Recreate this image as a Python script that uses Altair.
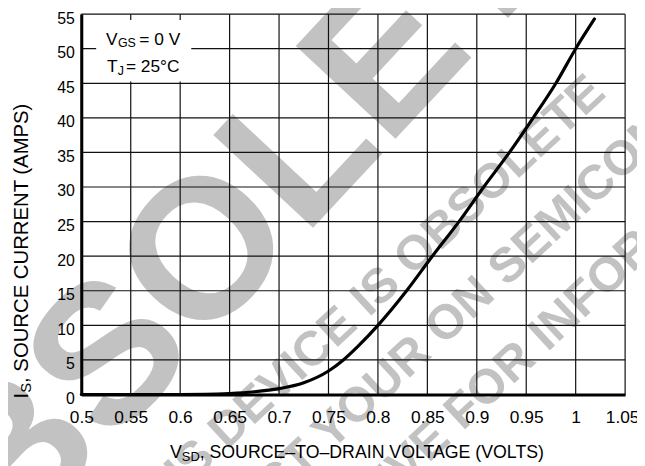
import altair as alt
import pandas as pd

# ---- data ----
vsd = [0.50, 0.55, 0.60, 0.625, 0.65, 0.675, 0.70, 0.725, 0.75, 0.765, 0.78, 0.80,
       0.829, 0.855, 0.882, 0.907, 0.933, 0.957, 0.980, 1.000, 1.019]
i_s = [0.0, 0.0, 0.0, 0.03, 0.15, 0.4, 0.85, 1.7, 3.4, 5.0, 7.0, 10.0,
       15.0, 20.0, 25.0, 30.0, 35.0, 40.0, 45.0, 50.0, 54.3]
x_ticks = [0.5, 0.55, 0.6, 0.65, 0.7, 0.75, 0.8, 0.85, 0.9, 0.95, 1.0, 1.05]
y_ticks = [0, 5, 10, 15, 20, 25, 30, 35, 40, 45, 50, 55]

x_title_main = ", SOURCE\u2013TO\u2013DRAIN VOLTAGE (VOLTS)"
y_title_main = ", SOURCE CURRENT (AMPS)"

W, H = 549, 384
PL, PT, PR, PB = 74, 4, 12, 70
OX, OY = 8 + PL, 8 + PT

REG = "Liberation Sans, Arial, Helvetica, sans-serif"
WM = "#c2c2c2"


def px(x):
    return x - OX


def py(y):
    return y - OY


xs = alt.Scale(domain=[0.5, 1.05], nice=False, zero=False)
ys = alt.Scale(domain=[0, 55], nice=False, zero=False)

x_axis = alt.Axis(values=x_ticks, format="~g", grid=False, ticks=False,
                  domainColor="black", domainWidth=3, labelFont=REG,
                  labelFontSize=17.5, labelColor="black", labelPadding=14,
                  labelOverlap=False, labelBound=False, labelFlush=False,
                  labelOffset={"condition": {"test": "datum.value > 1.04", "value": -3}, "value": 0},
                  title=None, zindex=1)
y_axis = alt.Axis(values=y_ticks, grid=False, ticks=False, domainColor="black",
                  domainWidth=3, labelFont=REG, labelFontSize=16,
                  labelColor="black", labelPadding=7, labelBaseline="middle",
                  labelOffset=4, labelOverlap=False, labelBound=False,
                  labelFlush=False, title=None, zindex=1)

one = pd.DataFrame({"a": [0]})


def text_layer(txt, x, y, size, font=REG, align="left", baseline="alphabetic",
               angle=None, color="black", weight="normal"):
    kw = dict(text=txt, fontSize=size, font=font, align=align,
              baseline=baseline, color=color, fontWeight=weight)
    if angle is not None:
        kw["angle"] = angle
    return alt.Chart(one).mark_text(**kw).encode(x=alt.value(px(x)), y=alt.value(py(y)))


layers = []

# watermark: big letters, each placed at its centre
big_letters = ["B", "S", "O", "L", "E", "T", "E"]
big_cx = [18, 112.5, 210, 304.7, 391.8, 478.8, 565.5]
big_cy = [461.5, 359.5, 254, 152, 58, -35.7, -129]
for ch, cx, cy in zip(big_letters, big_cx, big_cy):
    layers.append(text_layer(ch, cx, cy, 200, align="center", baseline="middle",
                             angle=313, color=WM, weight="bold"))
for txt, x, y, al in [
    ("THIS DEVICE IS OBSOLETE", 603, 83, "right"),
    ("CONTACT YOUR", 427, 346, "right"),
    ("ON SEMICONDUCTOR", 437.5, 336.5, "left"),
    ("REPRESENTATIVE", 446.3, 432.3, "right"),
    ("FOR INFORMATION", 456.8, 422.4, "left"),
]:
    layers.append(text_layer(txt, x, y, 49, align=al, baseline="middle",
                             angle=317, color=WM, weight="bold"))

# grid
xt = pd.DataFrame({"v": x_ticks})
yt = pd.DataFrame({"i": y_ticks})
layers.append(alt.Chart(xt).mark_rule(color="#111111", strokeWidth=1.2).encode(
    x=alt.X("v:Q", scale=xs, axis=x_axis)))
layers.append(alt.Chart(yt).mark_rule(color="#111111", strokeWidth=1.2).encode(
    y=alt.Y("i:Q", scale=ys, axis=y_axis)))

# curve
curve = pd.DataFrame({"v": vsd, "i": i_s})
layers.append(alt.Chart(curve).mark_line(color="black", strokeWidth=3.2,
                                          interpolate="monotone", strokeCap="round").encode(
    x=alt.X("v:Q", scale=xs, axis=x_axis),
    y=alt.Y("i:Q", scale=ys, axis=y_axis)))

# annotation box
layers.append(alt.Chart(one).mark_rect(color="white").encode(
    x=alt.value(px(97)), x2=alt.value(px(193)),
    y=alt.value(py(18)), y2=alt.value(py(80))))
layers += [
    text_layer("V", 107, 43, 17.5),
    text_layer("GS", 119, 45.5, 12.5),
    text_layer("= 0 V", 140.5, 43, 17.5),
    text_layer("T", 108, 70, 17.5),
    text_layer("J", 118.7, 73.3, 12.5),
    text_layer("= 25\u00b0C", 127, 70, 17.5),
]

# axis titles
layers += [
    text_layer("V", 171.5, 460, 18),
    text_layer("SD", 183.5, 463.3, 13),
    text_layer(x_title_main, 201.5, 460, 17.9),
    text_layer("I", 28, 400, 20.5, angle=270),
    text_layer("S", 31.5, 394.3, 15, angle=270),
    text_layer(y_title_main, 28, 384.3, 20.5, angle=270),
]

chart = alt.layer(*layers).properties(
    width=W, height=H,
    autosize=alt.AutoSizeParams(type="none"),
    padding={"left": PL, "top": PT, "right": PR, "bottom": PB},
).configure_view(stroke=None)

chart.save("out.html", embed_options={"renderer": "svg", "actions": False})
